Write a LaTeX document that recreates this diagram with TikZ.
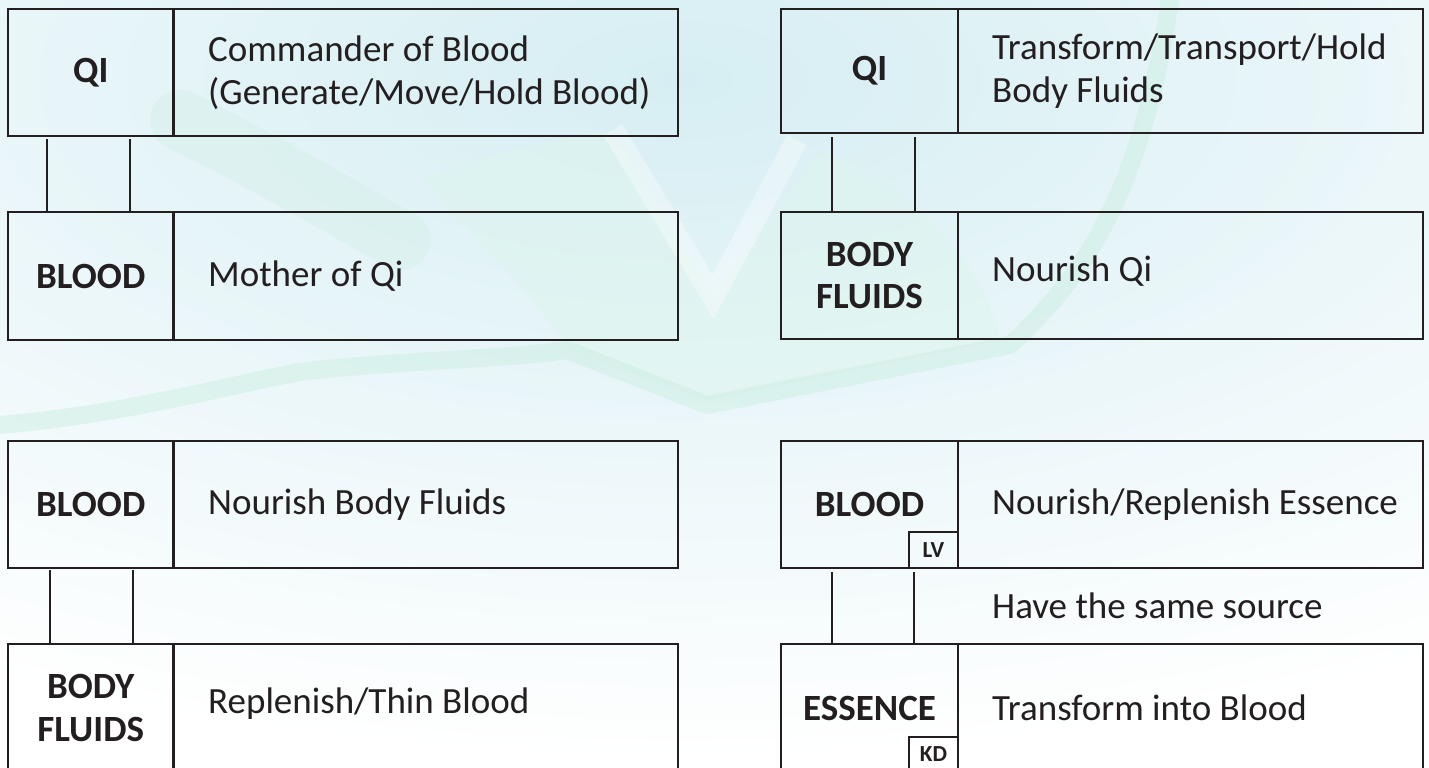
\documentclass[tikz,border=0pt]{standalone}
\usepackage{fontspec}
\setmainfont{Carlito}
\usetikzlibrary{calc}
\definecolor{ink}{HTML}{231F20}
\definecolor{skyw}{HTML}{D6EEF3}
\definecolor{mint}{HTML}{CDEFE3}
\definecolor{mintl}{HTML}{DDF5EE}
\begin{document}
\begin{tikzpicture}[x=1pt,y=-1pt,
  box/.style={draw=ink, line width=2.4pt, inner sep=0pt, outer sep=0pt},
  lab/.style={box, font=\fontsize{37}{43}\selectfont\bfseries, text=ink, align=center},
  desc/.style={box},
  dtext/.style={font=\fontsize{37}{43}\selectfont, text=ink, align=left, anchor=west, inner sep=0pt},
  tag/.style={draw=ink, line width=2pt, font=\fontsize{23}{24}\selectfont\bfseries, text=ink, inner sep=0pt, outer sep=0pt, minimum width=49pt},
  link/.style={draw=ink, line width=2pt},
  band/.style={draw=mint, line width=18pt, line cap=round, line join=round, opacity=0.5}]
\useasboundingbox (0,0) rectangle (1429,768);
\clip (0,0) rectangle (1429,768);
% ---- background watermark ----
\fill[white] (0,0) rectangle (1429,768);
\shade[inner color=skyw, outer color=white] (680,80) ellipse (1450 and 680);
\fill[mintl, opacity=0.5] (420,180) .. controls (500,260) and (560,330) .. (567,350)
  -- (707,400) -- (1000,340) .. controls (980,250) and (900,180) .. (820,150)
  -- (713,297) -- (613,130) .. controls (540,140) and (470,160) .. (420,180) -- cycle;
\draw[band] (0,425) .. controls (120,415) and (230,385) .. (300,372)
  .. controls (400,360) and (500,360) .. (567,350) -- (707,405)
  -- (1010,345) .. controls (1080,280) and (1140,200) .. (1170,0);
\draw[band, line width=60pt, opacity=0.3] (180,120) .. controls (260,160) and (330,200) .. (400,240);
\draw[white, line width=22pt, opacity=0.35, line join=miter] (613,130) -- (713,297) -- (797,140);
% ---- row A / B left ----
\node[lab, minimum width=165.5pt, minimum height=127pt] (qa) at (90.75,72.5) {QI};
\node[desc, minimum width=504.5pt, minimum height=127pt, anchor=west] (qad) at (qa.east) {};
\node[dtext] (qat) at ([xshift=34.5pt]qad.west) {Commander of Blood\\(Generate/Move/Hold Blood)};
\node[lab, minimum width=165.5pt, minimum height=128pt] (ba) at (90.75,276) {BLOOD};
\node[desc, minimum width=504.5pt, minimum height=128pt, anchor=west] (bad) at (ba.east) {};
\node[dtext] (bat) at ([xshift=34.5pt]bad.west) {Mother of Qi};
\draw[link] ([shift={(39pt,-3pt)}]qa.south west) -- ([xshift=39pt]ba.north west);
\draw[link] ([shift={(122pt,-3pt)}]qa.south west) -- ([xshift=122pt]ba.north west);
% ---- row A / B right ----
\node[lab, minimum width=177pt, minimum height=124pt] (qb) at (869.5,71) {QI};
\node[desc, minimum width=465pt, minimum height=124pt, anchor=west] (qbd) at (qb.east) {};
\node[dtext] (qbt) at ([xshift=34pt]qbd.west) {Transform/Transport/Hold\\Body Fluids};
\node[lab, minimum width=177pt, minimum height=127pt] (fb) at (869.5,275.5) {BODY\\FLUIDS};
\node[desc, minimum width=465pt, minimum height=127pt, anchor=west] (fbd) at (fb.east) {};
\node[dtext] (fbt) at ([shift={(34pt,4pt)}]fbd.west) {Nourish Qi};
\draw[link] ([shift={(51pt,-4pt)}]qb.south west) -- ([xshift=51pt]fb.north west);
\draw[link] ([shift={(134pt,-4pt)}]qb.south west) -- ([xshift=134pt]fb.north west);
% ---- row C / D left ----
\node[lab, minimum width=165.5pt, minimum height=127pt] (bc) at (90.75,504.5) {BLOOD};
\node[desc, minimum width=504.5pt, minimum height=127pt, anchor=west] (bcd) at (bc.east) {};
\node[dtext] (bct) at ([xshift=34.5pt]bcd.west) {Nourish Body Fluids};
\node[lab, minimum width=165.5pt, minimum height=128pt] (fc) at (90.75,708) {BODY\\FLUIDS};
\node[desc, minimum width=504.5pt, minimum height=128pt, anchor=west] (fcd) at (fc.east) {};
\node[dtext] (fct) at ([shift={(34.5pt,4pt)}]fcd.west) {Replenish/Thin Blood};
\draw[link] ([shift={(42pt,-2pt)}]bc.south west) -- ([xshift=42pt]fc.north west);
\draw[link] ([shift={(125pt,-2pt)}]bc.south west) -- ([xshift=125pt]fc.north west);
% ---- row C / D right ----
\node[lab, minimum width=177pt, minimum height=127pt] (bd) at (869.5,504.5) {BLOOD};
\node[desc, minimum width=465pt, minimum height=127pt, anchor=west] (bdd) at (bd.east) {};
\node[dtext] (bdt) at ([xshift=34pt]bdd.west) {Nourish/Replenish Essence};
\node[tag, minimum height=36pt, anchor=south east] (lv) at (bd.south east) {LV};
\node[lab, minimum width=177pt, minimum height=128pt] (ed) at (869.5,708) {ESSENCE};
\node[desc, minimum width=465pt, minimum height=128pt, anchor=west] (edd) at (ed.east) {};
\node[dtext] (edt) at ([xshift=34pt]edd.west) {Transform into Blood};
\node[tag, minimum height=35pt, anchor=south east] (kd) at (ed.south east) {KD};
\node[dtext] (same) at (992,606) {Have the same source};
\draw[link] ([shift={(51pt,-4pt)}]bd.south west) -- ([xshift=51pt]ed.north west);
\draw[link] ([shift={(133pt,-4pt)}]bd.south west) -- ([xshift=133pt]ed.north west);
\end{tikzpicture}
\end{document}
